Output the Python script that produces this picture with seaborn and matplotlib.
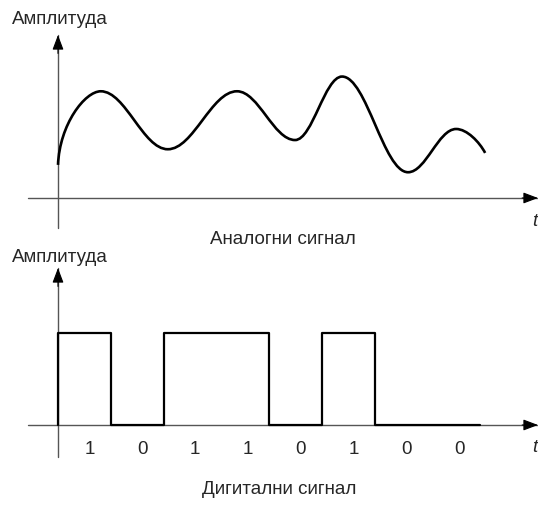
import numpy as np
import pandas as pd
import seaborn as sns
import matplotlib.pyplot as plt
from matplotlib.path import Path
from matplotlib.patches import PathPatch

# ---- data ----
# analog signal: extrema (time in bit periods, amplitude in units of digital "1")
analog_t = [0.0, 0.81, 2.08, 3.39, 4.49, 5.38, 6.63, 7.54, 8.09]
analog_a = [0.36, 1.16, 0.53, 1.16, 0.63, 1.32, 0.28, 0.75, 0.49]

# digital signal
bits = [1, 0, 1, 1, 0, 1, 0, 0]
bit_labels = ["1", "0", "1", "1", "0", "1", "0", "0"]

y_label = "Амплитуда"
x_label = "t"
title_analog = "Аналогни сигнал"
title_digital = "Дигитални сигнал"

sns.set_theme(style="white")
plt.rcParams["font.family"] = ["Liberation Sans Narrow", "Liberation Sans", "DejaVu Sans"]

W, H = 538, 505
PX = 52.8      # pixels per bit period
PY = 92.0      # pixels per amplitude unit
X0 = 58        # pixel column of the y axis
AXIS_C = "#555555"
FS = 13.5

fig = plt.figure(figsize=(W / 100, H / 100), dpi=100)


def make_axes(row_top, row_bot, xaxis_row):
    ax = fig.add_axes([0, 1 - row_bot / H, 1, (row_bot - row_top) / H])
    ax.set_xlim(-X0 / PX, (W - X0) / PX)
    ax.set_ylim(-(row_bot - xaxis_row) / PY, (xaxis_row - row_top) / PY)
    ax.axis("off")
    return ax


def draw_axes(ax, xaxis_row, ytip_row, ybot_row):
    x_start = (28 - X0) / PX
    x_tip = (W - X0) / PX
    y_tip = (xaxis_row - ytip_row) / PY
    y_bot = -(ybot_row - xaxis_row) / PY
    ax.plot([x_start, x_tip], [0, 0], color=AXIS_C, lw=1.0, zorder=1)
    ax.plot([0, 0], [y_bot, y_tip], color=AXIS_C, lw=1.0, zorder=1)
    head = dict(arrowstyle="-|>,head_length=9,head_width=3.4", color="black",
                mutation_scale=1, shrinkA=0, shrinkB=0, lw=0.8)
    ax.annotate("", xy=(x_tip, 0), xytext=(x_tip - 0.3, 0), arrowprops=head)
    ax.annotate("", xy=(0, y_tip), xytext=(0, y_tip - 0.2), arrowprops=head)
    ax.text((535 - X0) / PX, -23 / PY, x_label, style="italic", fontsize=FS,
            ha="center", va="center", family=["Liberation Sans", "DejaVu Sans"])


# ---------- analog ----------
ax1 = make_axes(0, 250, 198)
draw_axes(ax1, 198, 35, 228)

verts = [(analog_t[0], analog_a[0])]
codes = [Path.MOVETO]
n = len(analog_t)
for i in range(n - 1):
    t0, a0 = analog_t[i], analog_a[i]
    t1, a1 = analog_t[i + 1], analog_a[i + 1]
    dx = t1 - t0
    if i == 0:
        c1 = (t0 + 0.03, a0 + 0.55 * (a1 - a0))
    else:
        c1 = (t0 + 0.37 * dx, a0)
    if i == n - 2:
        c2 = (t1 - 0.2 * dx, a1 + 0.12)
    else:
        c2 = (t1 - 0.37 * dx, a1)
    verts += [c1, c2, (t1, a1)]
    codes += [Path.CURVE4] * 3
ax1.add_patch(PathPatch(Path(verts, codes), fill=False, edgecolor="black",
                        lw=1.9, capstyle="butt", zorder=3))

ax1.text(-46 / PX, (198 - 19) / PY, y_label, fontsize=FS, ha="left", va="center")
ax1.text((283 - X0) / PX, -(240 - 198) / PY, title_analog, fontsize=FS,
         ha="center", va="center")

# ---------- digital ----------
ax2 = make_axes(250, 505, 425)
draw_axes(ax2, 425, 268, 457)

dig = pd.DataFrame({
    "t": [0] + list(range(len(bits) + 1)),
    "level": [0] + bits + [bits[-1]],
})
sns.lineplot(data=dig, x="t", y="level", ax=ax2, color="black", lw=1.6,
             estimator=None, sort=False, drawstyle="steps-post", zorder=3)
ax2.axis("off")

for i, lab in enumerate(bit_labels):
    ax2.text(i + 0.6, -25 / PY, lab, fontsize=FS, ha="center", va="center")

ax2.text(-46 / PX, (425 - 257) / PY, y_label, fontsize=FS, ha="left", va="center")
ax2.text((279 - X0) / PX, -(490 - 425) / PY, title_digital, fontsize=FS,
         ha="center", va="center")

fig.savefig("out.png", dpi=100)
